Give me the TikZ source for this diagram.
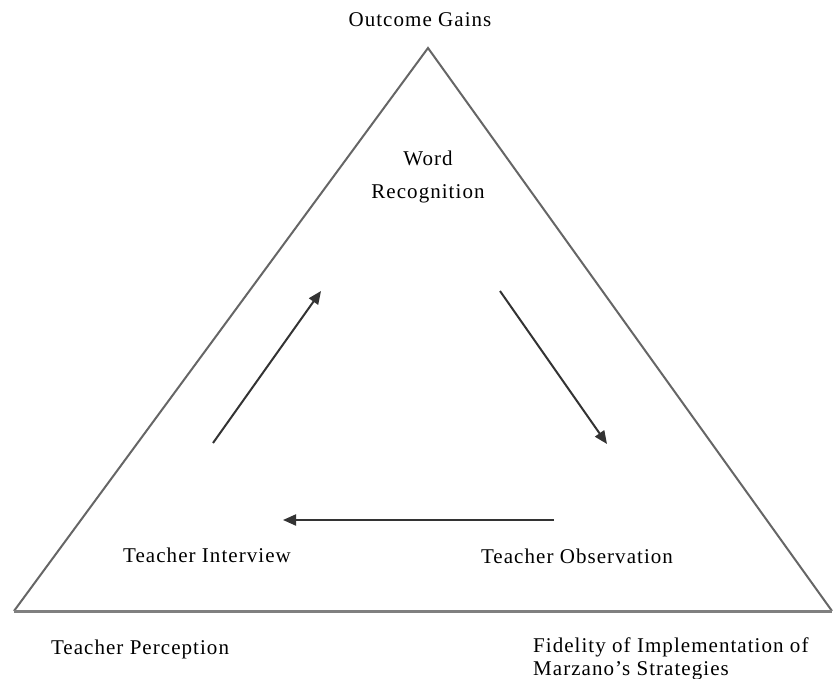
\documentclass[tikz,border=0pt]{standalone}
\usepackage{fontspec}
\setmainfont{Liberation Serif}[LetterSpace=5]
\usetikzlibrary{positioning, arrows.meta}

\begin{document}
\begin{tikzpicture}[
        x=1pt, y=-1pt,
        >={Triangle[length=13pt, width=11pt]},
        % Styles
        sidelabel/.style={font=\fontsize{21}{23}\selectfont, inner sep=0pt},
        edgeline/.style={draw=black!60, line width=2pt},
        baseline/.style={draw=black!50, line width=3pt},
        arrow/.style={->, draw=black!80, line width=2pt},
    ]
        \useasboundingbox (0,0) rectangle (833,679);

        % === TRIANGLE ===
        \coordinate (apex) at (428,48);
        \coordinate (leftc) at (14,611);
        \coordinate (rightc) at (832,611);
        \draw[edgeline] (leftc) -- (apex) -- (rightc);
        \draw[baseline] (leftc) -- (rightc);

        % === CORNER LABELS ===
        \node[sidelabel] (gains) at (420,20) {Outcome Gains};
        \node[sidelabel] (perception) at (140,649) {Teacher Perception};
        \node[sidelabel, anchor=west, align=left] (fidelity) at (533,659)
            {Fidelity of Implementation of\\Marzano's Strategies};

        % === INNER LABELS ===
        \node[sidelabel, align=center] (word) at (428,177)
            {Word\\[10pt]Recognition};
        \node[sidelabel] (interview) at (207,555) {Teacher Interview};
        \node[sidelabel] (observation) at (577,556) {Teacher Observation};

        % === CYCLE ARROWS ===
        \coordinate (up1) at (213,443);
        \coordinate (up2) at (321,291);
        \coordinate (down1) at (500,291);
        \coordinate (down2) at (607,444);
        \coordinate (back1) at (554,520);
        \coordinate (back2) at (283,520);
        \draw[arrow] (up1) -- (up2);
        \draw[arrow] (down1) -- (down2);
        \draw[arrow] (back1) -- (back2);

    \end{tikzpicture}
\end{document}
